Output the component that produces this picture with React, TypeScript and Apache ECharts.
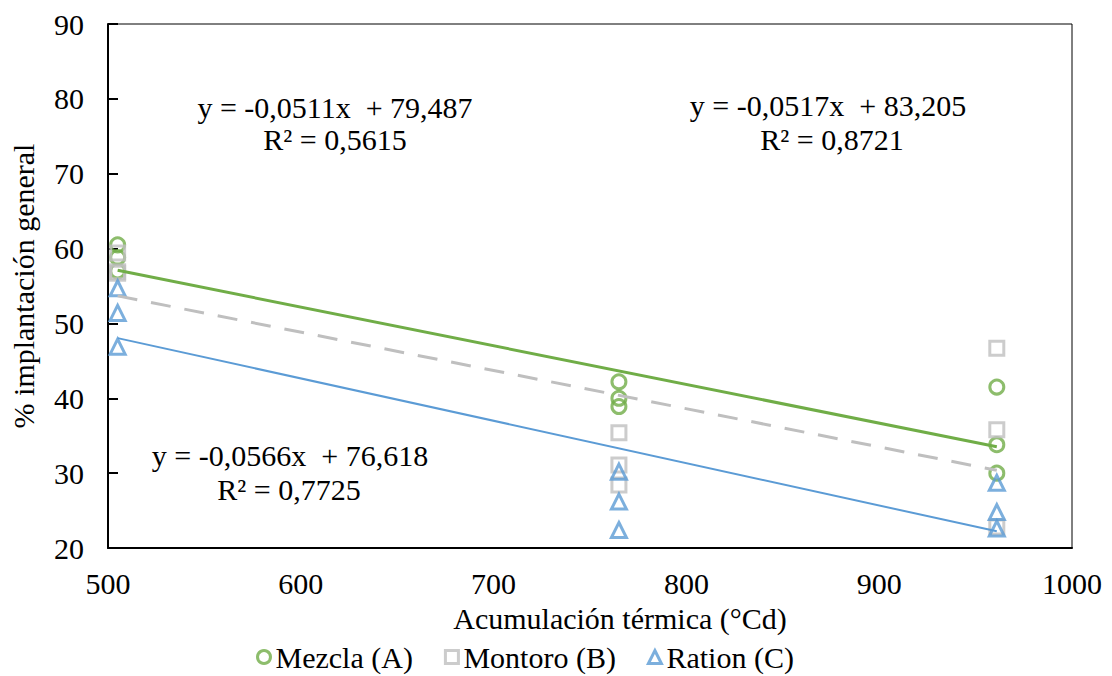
import React, { useEffect, useRef } from "react";
import * as echarts from "echarts";

const xLevels = [505, 765, 961];
const mezcla = [60.5, 58.8, 57.0, 42.2, 40.0, 38.9, 41.5, 33.8, 30.0];
const montoro = [59.4, 56.9, 56.7, 35.4, 31.1, 28.4, 46.7, 35.8, 22.8];
const ration = [54.7, 51.4, 46.9, 30.2, 26.2, 22.4, 28.7, 24.8, 22.6];
const seriesNames = ["Mezcla (A)", "Montoro (B)", "Ration (C)"];
const slopes = [-0.0517, -0.0511, -0.0566];
const intercepts = [83.205, 79.487, 76.618];
const trendRange = [505, 961];
const xTicks = [500, 600, 700, 800, 900, 1000];
const yTicks = [20, 30, 40, 50, 60, 70, 80, 90];

const FONT = "Liberation Serif";

function pairs(vals: number[]) {
  return vals.map((v, i) => [xLevels[Math.floor(i / 3)], v]);
}
function trend(i: number) {
  return trendRange.map((x) => [x, intercepts[i] + slopes[i] * x]);
}

export default function App() {
  const ref = useRef<HTMLDivElement>(null);
  useEffect(() => {
    if (!ref.current) return;
    const chart = echarts.init(ref.current, undefined, { renderer: "svg" });
    const green = "#70AD47";
    const gray = "#BFBFBF";
    const blue = "#5B9BD5";
    const clear = "rgba(255,255,255,0)";
    const txt = (x: number, y: number, t: string) => ({
      type: "text",
      x,
      y,
      style: {
        text: t,
        fontFamily: FONT,
        fontSize: 30,
        fill: "#000",
        textAlign: "center",
        textVerticalAlign: "middle",
      },
    });
    chart.setOption({
      animation: false,
      backgroundColor: "#fff",
      grid: {
        left: 108,
        right: 40,
        top: 24,
        bottom: 128,
        show: true,
        borderColor: "#000",
        borderWidth: 1,
      },
      legend: {
        data: seriesNames,
        left: 251,
        top: 637,
        itemGap: 31,
        itemWidth: 13,
        itemHeight: 13,
        itemStyle: { borderWidth: 3 },
        textStyle: { fontFamily: FONT, fontSize: 30, color: "#000" },
      },
      xAxis: {
        type: "value",
        min: xTicks[0],
        max: xTicks[xTicks.length - 1],
        interval: 100,
        name: "Acumulación térmica (°Cd)",
        nameLocation: "middle",
        nameGap: 55,
        nameTextStyle: { fontFamily: FONT, fontSize: 30, color: "#000", padding: [0, 0, 0, 60] },
        axisLine: { lineStyle: { color: "#000", width: 2 } },
        axisTick: { show: false },
        splitLine: { show: false },
        axisLabel: {
          fontFamily: FONT,
          fontSize: 30,
          color: "#000",
          margin: 20,
          formatter: (v: number) => String(v),
        },
      },
      yAxis: {
        type: "value",
        min: yTicks[0],
        max: yTicks[yTicks.length - 1],
        interval: 10,
        name: "% implantación general",
        nameLocation: "middle",
        nameRotate: 90,
        nameGap: 70,
        nameTextStyle: { fontFamily: FONT, fontSize: 30, color: "#000" },
        axisLine: { show: true, lineStyle: { color: "#000", width: 2 } },
        axisTick: { show: true, inside: true, length: 10, lineStyle: { color: "#000", width: 2 } },
        splitLine: { show: false },
        axisLabel: {
          fontFamily: FONT,
          fontSize: 30,
          color: "#000",
          margin: 24,
          formatter: (v: number) => String(v),
        },
      },
      series: [
        {
          name: seriesNames[0],
          type: "scatter",
          symbol: "circle",
          symbolSize: 14,
          data: pairs(mezcla),
          itemStyle: { color: clear, borderColor: green, borderWidth: 3 },
          z: 2,
        },
        {
          name: seriesNames[1],
          type: "scatter",
          symbol: "rect",
          symbolSize: 14,
          data: pairs(montoro),
          itemStyle: { color: clear, borderColor: gray, borderWidth: 3 },
          z: 3,
        },
        {
          name: seriesNames[2],
          type: "scatter",
          symbol: "triangle",
          symbolSize: 15,
          data: pairs(ration),
          itemStyle: { color: clear, borderColor: blue, borderWidth: 3 },
          z: 4,
        },
        {
          name: "trend A",
          type: "line",
          data: trend(0),
          showSymbol: false,
          symbol: "none",
          lineStyle: { color: green, width: 3 },
          z: 5,
        },
        {
          name: "trend B",
          type: "line",
          data: trend(1),
          showSymbol: false,
          symbol: "none",
          lineStyle: { color: gray, width: 3, type: [20, 14] },
          z: 5,
        },
        {
          name: "trend C",
          type: "line",
          data: trend(2),
          showSymbol: false,
          symbol: "none",
          lineStyle: { color: blue, width: 2 },
          z: 5,
        },
      ],
      graphic: [
        txt(335, 107, "y = -0,0511x  + 79,487"),
        txt(335, 139, "R² = 0,5615"),
        txt(828, 105, "y = -0,0517x  + 83,205"),
        txt(832, 139, "R² = 0,8721"),
        txt(290, 455, "y = -0,0566x  + 76,618"),
        txt(289, 489, "R² = 0,7725"),
      ],
    });
    return () => chart.dispose();
  }, []);
  return (
    <div
      ref={ref}
      style={{ position: "absolute", left: 0, top: 0, width: 1112, height: 676 }}
    />
  );
}
